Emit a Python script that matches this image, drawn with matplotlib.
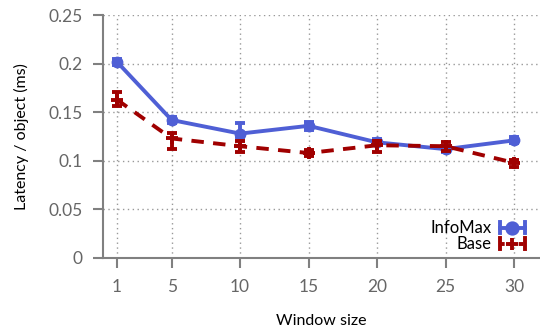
import matplotlib
matplotlib.use("Agg")
import matplotlib.pyplot as plt
from matplotlib.legend_handler import HandlerBase
from matplotlib.lines import Line2D
import numpy as np

# Window sizes and measured per-object latency (ms)
windows = [1, 5, 10, 15, 20, 25, 30]

infomax_mean = [0.202, 0.142, 0.128, 0.136, 0.119, 0.112, 0.121]
infomax_low = [0.199, 0.139, 0.124, 0.132, 0.116, 0.109, 0.118]
infomax_high = [0.205, 0.145, 0.139, 0.140, 0.122, 0.115, 0.124]

base_mean = [0.163, 0.123, 0.115, 0.108, 0.116, 0.115, 0.098]
base_low = [0.156, 0.112, 0.109, 0.105, 0.109, 0.110, 0.094]
base_high = [0.171, 0.129, 0.120, 0.111, 0.120, 0.119, 0.101]

y_ticks = [0, 0.05, 0.1, 0.15, 0.2, 0.25]
y_tick_labels = ["0", "0.05", "0.1", "0.15", "0.2", "0.25"]

BLUE = "#4f5fd5"
RED = "#a00000"
AXIS_GRAY = "#808080"
LW = 2.8

plt.rcParams["font.family"] = ["Lato", "DejaVu Sans"]


class HorizontalErrorHandler(HandlerBase):
    """Legend sample: horizontal bar with end caps and the point marker in the middle."""

    def __init__(self, color, marker, ms, ls="-"):
        super().__init__()
        self.color = color
        self.marker = marker
        self.ms = ms
        self.ls = ls

    def create_artists(self, legend, orig_handle, xdescent, ydescent,
                       width, height, fontsize, trans):
        y = height / 2 - ydescent
        x0, x1 = -xdescent, width - xdescent
        cap = height * 0.45
        artists = [
            Line2D([x0, x1], [y, y], color=self.color, lw=LW, ls=self.ls),
            Line2D([x0, x0], [y - cap, y + cap], color=self.color, lw=LW),
            Line2D([x1, x1], [y - cap, y + cap], color=self.color, lw=LW),
            Line2D([(x0 + x1) / 2], [y], color=self.color, marker=self.marker,
                   ms=self.ms, mew=LW, ls="none"),
        ]
        for a in artists:
            a.set_transform(trans)
        return artists


fig = plt.figure(figsize=(5.4, 3.35), dpi=100)
ax = fig.add_axes([0.191, 0.23, 0.809, 0.725])


def yerr(mean, low, high):
    m = np.array(mean)
    return [m - np.array(low), np.array(high) - m]


h_info = ax.errorbar(windows, infomax_mean, yerr=yerr(infomax_mean, infomax_low, infomax_high),
                     color=BLUE, lw=LW, marker="o", ms=7.5, capsize=3.5, capthick=LW,
                     elinewidth=LW, label="InfoMax", zorder=3)
h_base = ax.errorbar(windows, base_mean, yerr=yerr(base_mean, base_low, base_high),
                     color=RED, lw=LW, ls=(0, (3.2, 2.4)), marker="+", ms=8, mew=LW,
                     capsize=3.5, capthick=LW, elinewidth=LW, label="Base", zorder=4)

ax.set_xlim(0, 31.9)
ax.set_ylim(0, 0.25)
ax.set_xticks(windows)
ax.set_xticklabels([str(w) for w in windows])
ax.set_yticks(y_ticks)
ax.set_yticklabels(y_tick_labels)

ax.grid(True, color="#999999", ls=(0, (1, 2.5)), lw=1.0)
ax.set_axisbelow(True)

for side in ["top", "right"]:
    ax.spines[side].set_visible(False)
for side in ["left", "bottom"]:
    ax.spines[side].set_color(AXIS_GRAY)
    ax.spines[side].set_linewidth(1.5)

ax.tick_params(axis="both", direction="out", length=7, width=1.5,
               color=AXIS_GRAY, labelcolor="#666666", labelsize=12.5, pad=8)

ax.set_xlabel("Window size", fontsize=11.5, labelpad=14)
ax.set_ylabel("Latency / object (ms)", fontsize=11.5, labelpad=14)

ax.legend([h_info, h_base], ["InfoMax", "Base"],
          handler_map={
              h_info: HorizontalErrorHandler(BLUE, "o", 7.5),
              h_base: HorizontalErrorHandler(RED, "+", 8, ls=(0, (1.2, 1.2))),
          },
          loc="lower right", frameon=False, markerfirst=False,
          fontsize=12, handlelength=1.5, handleheight=0.8, handletextpad=0.5,
          labelspacing=0.0, borderaxespad=0.3, bbox_to_anchor=(0.992, -0.025))

fig.savefig("out.png", dpi=100)
